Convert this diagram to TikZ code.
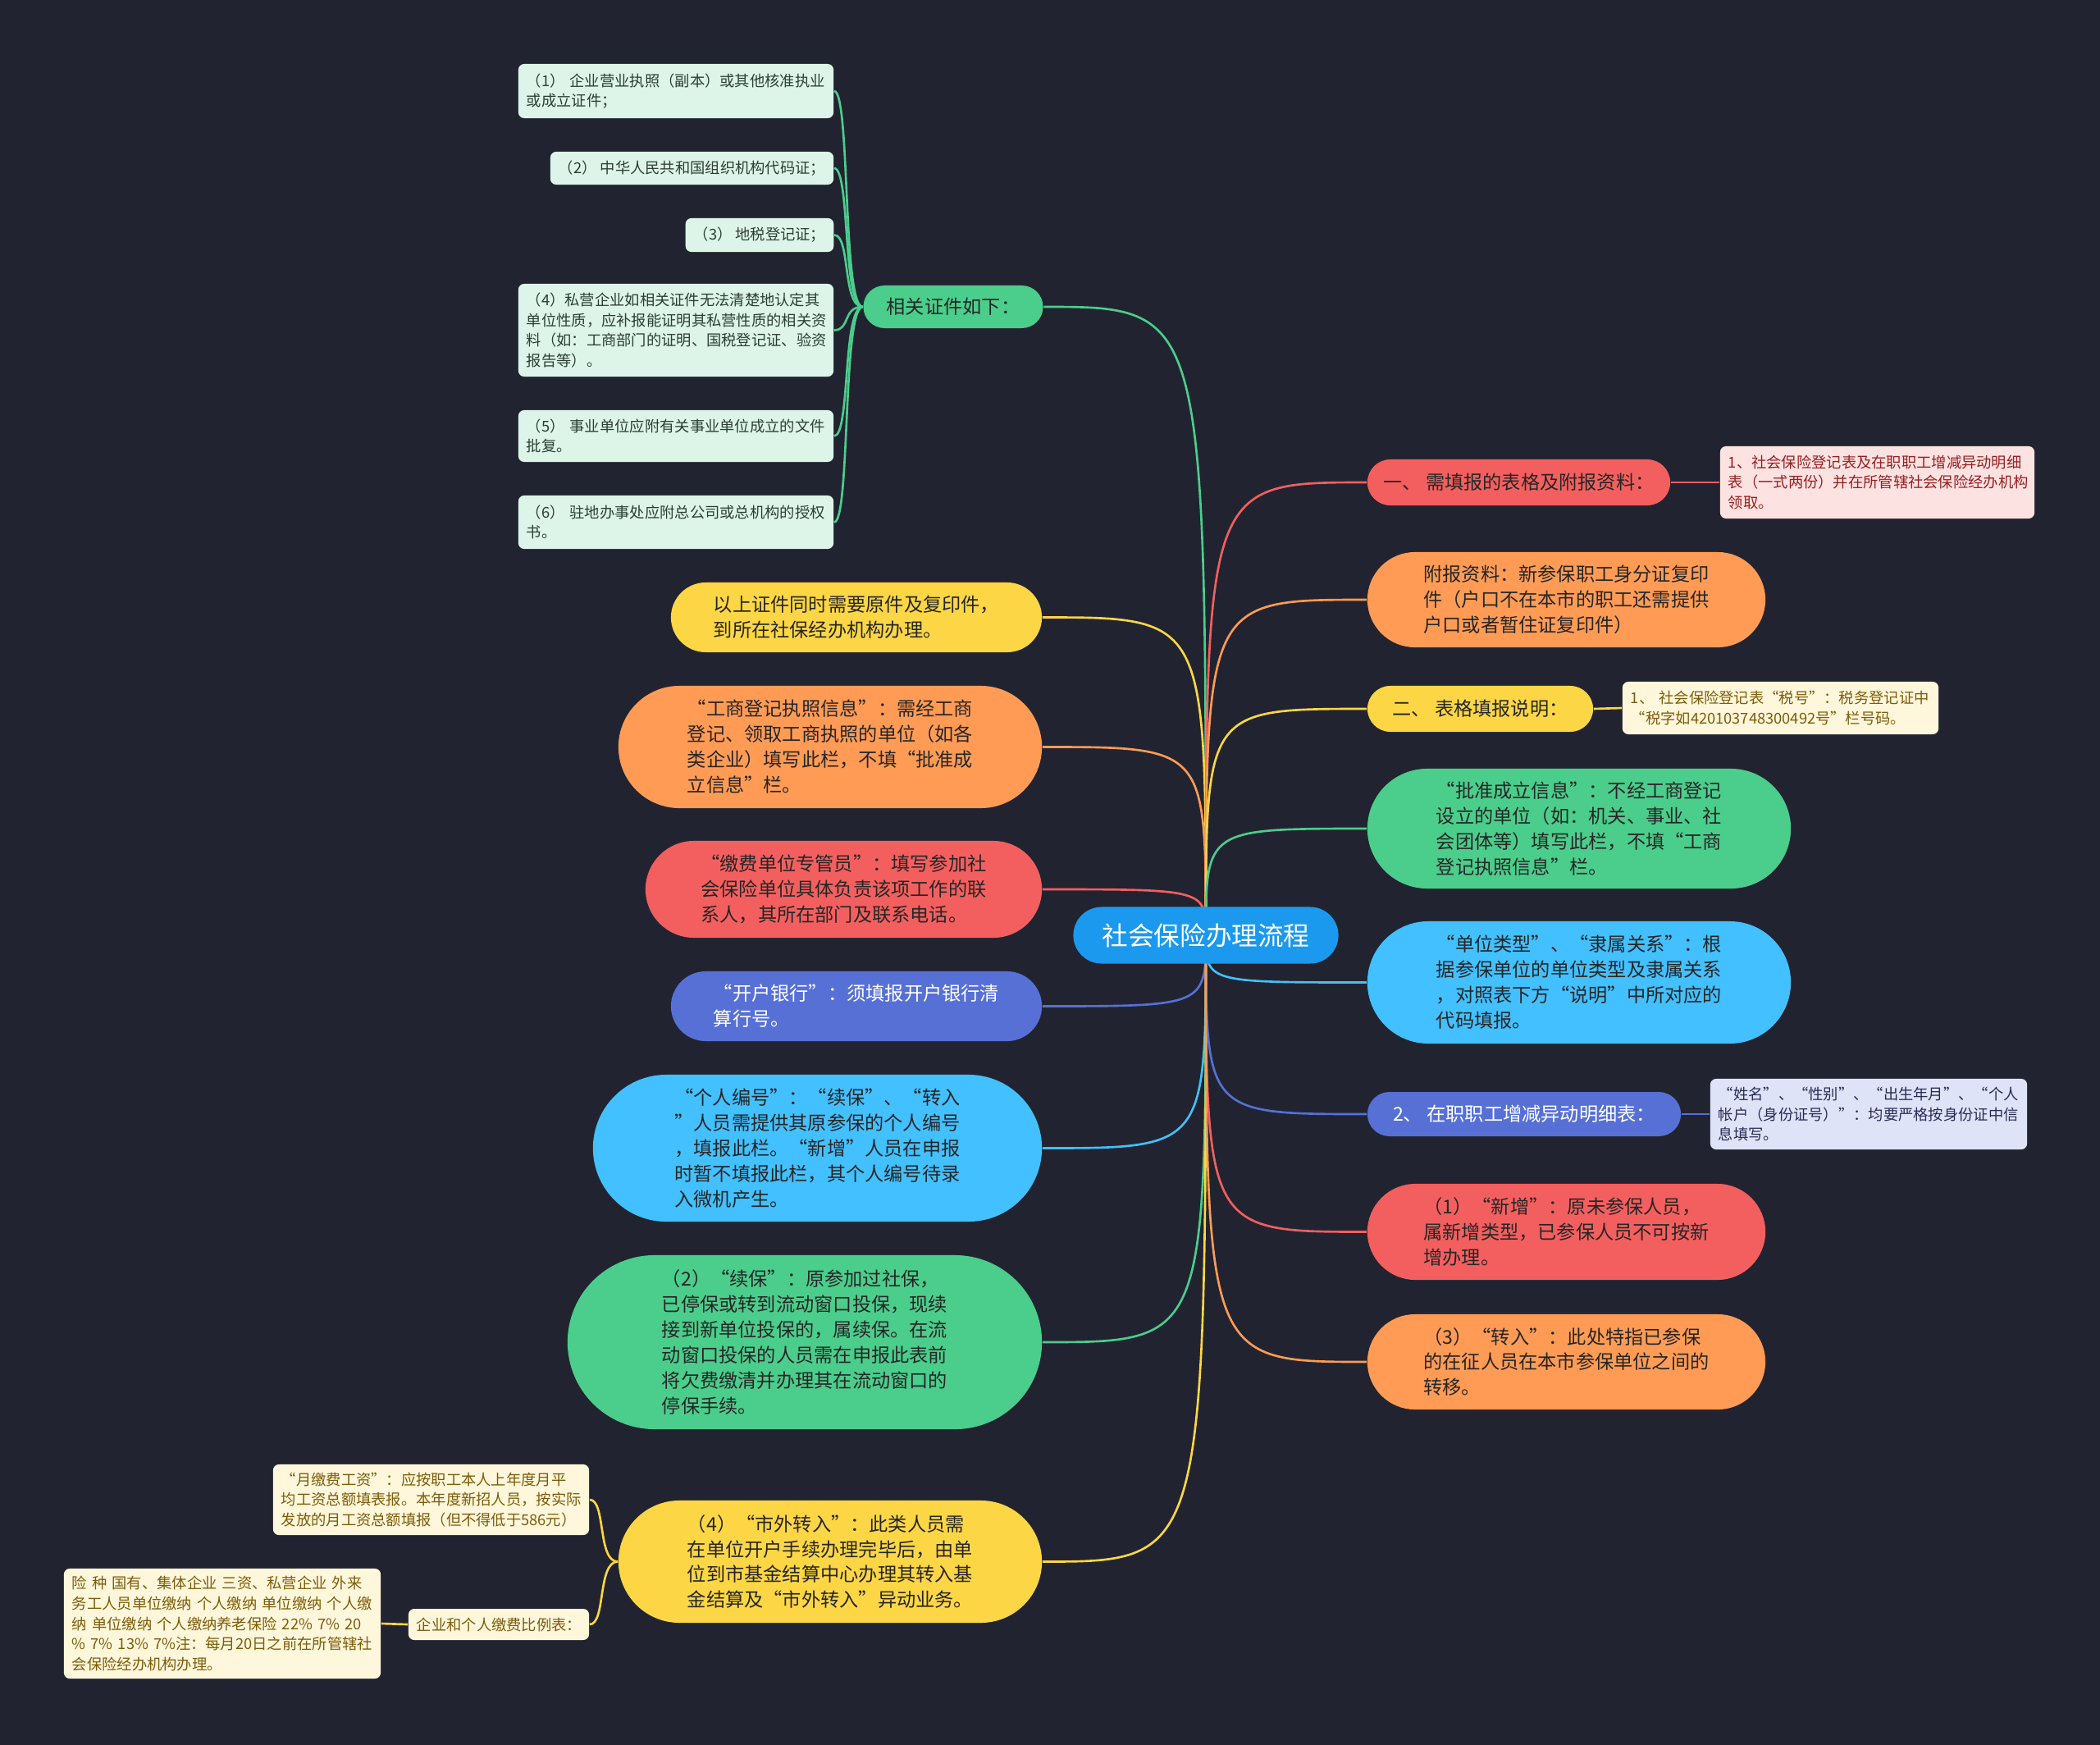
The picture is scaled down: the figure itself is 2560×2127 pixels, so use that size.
\documentclass[tikz,border=0pt]{standalone}
\usepackage{fontspec}
\setmainfont{Noto Sans CJK SC}
\usepackage{tikz}
\usetikzlibrary{shapes.misc}
\definecolor{MapBg}{RGB}{33,36,48}
\definecolor{MapRoot}{RGB}{27,153,238}
\definecolor{MapRed}{RGB}{243,95,95}
\definecolor{MapOrange}{RGB}{255,155,85}
\definecolor{MapYellow}{RGB}{253,214,69}
\definecolor{MapGreen}{RGB}{75,205,140}
\definecolor{MapSky}{RGB}{66,192,255}
\definecolor{MapIndigo}{RGB}{86,112,214}
\definecolor{MapInk}{RGB}{38,38,38}
\definecolor{SubMint}{RGB}{221,245,233}
\definecolor{SubPink}{RGB}{253,226,226}
\definecolor{SubCream}{RGB}{254,247,219}
\definecolor{SubLilac}{RGB}{223,227,248}
\definecolor{InkMint}{RGB}{45,62,52}
\definecolor{InkPink}{RGB}{150,32,32}
\definecolor{InkCream}{RGB}{125,92,10}
\definecolor{InkLilac}{RGB}{40,45,85}
\pgfdeclarelayer{bgfill}
\pgfdeclarelayer{edges}
\pgfsetlayers{bgfill,edges,main}

\begin{document}
\begin{tikzpicture}[x=0.01cm, y=-0.01cm,
    hub/.style={rounded rectangle, fill=MapRoot, text=white, inner sep=0pt, font=\fontsize{9}{11}\selectfont},
    topic/.style={rounded rectangle, inner sep=0pt, align=left, text=MapInk, font=\fontsize{6.6}{8.8}\selectfont},
    note/.style={rectangle, rounded corners=2pt, inner xsep=0.1cm, inner ysep=0pt, align=left, font=\fontsize{5.2}{7}\selectfont},
    link/.style={line width=0.75pt}
]
    \begin{pgfonlayer}{bgfill}
        \fill[MapBg] (0,0) rectangle (2560,2127);
    \end{pgfonlayer}

    \node[hub, minimum width=3.23cm, minimum height=0.69cm] (root) at (1470,1140) {社会保险办理流程};

    % left side
    \node[topic, fill=MapGreen, minimum width=2.19cm, minimum height=0.52cm] (cert) at (1162,374) {相关证件如下：};
    \node[note, fill=SubMint, text=InkMint, text width=3.64cm, minimum height=0.66cm] (c1) at (824,111) {（1） 企业营业执照（副本）或其他核准执业\\或成立证件；};
    \node[note, fill=SubMint, text=InkMint, minimum width=3.45cm, minimum height=0.40cm] (c2) at (843.5,205) {（2） 中华人民共和国组织机构代码证；};
    \node[note, fill=SubMint, text=InkMint, minimum width=1.80cm, minimum height=0.41cm] (c3) at (926,286.5) {（3） 地税登记证；};
    \node[note, fill=SubMint, text=InkMint, text width=3.64cm, minimum height=1.13cm] (c4) at (824,402.5) {（4）私营企业如相关证件无法清楚地认定其\\单位性质，应补报能证明其私营性质的相关资\\料（如：工商部门的证明、国税登记证、验资\\报告等）。};
    \node[note, fill=SubMint, text=InkMint, text width=3.64cm, minimum height=0.63cm] (c5) at (824,531.5) {（5） 事业单位应附有关事业单位成立的文件\\批复。};
    \node[note, fill=SubMint, text=InkMint, text width=3.64cm, minimum height=0.65cm] (c6) at (824,636.5) {（6） 驻地办事处应附总公司或总机构的授权\\书。};

    \node[topic, fill=MapYellow, minimum width=4.52cm, minimum height=0.85cm] (l1) at (1044,752.5) {以上证件同时需要原件及复印件，\\到所在社保经办机构办理。};
    \node[topic, fill=MapOrange, minimum width=5.16cm, minimum height=1.49cm] (l2) at (1012,910.5) {“工商登记执照信息”：需经工商\\登记、领取工商执照的单位（如各\\类企业）填写此栏，不填“批准成\\立信息”栏。};
    \node[topic, fill=MapRed, minimum width=4.83cm, minimum height=1.18cm] (l3) at (1028.5,1084) {“缴费单位专管员”：填写参加社\\会保险单位具体负责该项工作的联\\系人，其所在部门及联系电话。};
    \node[topic, fill=MapIndigo, text=white, minimum width=4.52cm, minimum height=0.85cm] (l4) at (1044,1226.5) {“开户银行”：须填报开户银行清\\算行号。};
    \node[topic, fill=MapSky, minimum width=5.47cm, minimum height=1.79cm] (l5) at (996.5,1399.5) {“个人编号”：“续保”、“转入\\”人员需提供其原参保的个人编号\\，填报此栏。“新增”人员在申报\\时暂不填报此栏，其个人编号待录\\入微机产生。};
    \node[topic, fill=MapGreen, minimum width=5.78cm, minimum height=2.12cm] (l6) at (981,1636) {（2）“续保”：原参加过社保，\\已停保或转到流动窗口投保，现续\\接到新单位投保的，属续保。在流\\动窗口投保的人员需在申报此表前\\将欠费缴清并办理其在流动窗口的\\停保手续。};
    \node[topic, fill=MapYellow, minimum width=5.16cm, minimum height=1.49cm] (l7) at (1012,1903.5) {（4）“市外转入”：此类人员需\\在单位开户手续办理完毕后，由单\\位到市基金结算中心办理其转入基\\金结算及“市外转入”异动业务。};

    \node[note, fill=SubCream, text=InkCream, text width=3.65cm, minimum height=0.86cm] (w1) at (525.5,1828) {“月缴费工资”：应按职工本人上年度月平\\均工资总额填表报。本年度新招人员，按实际\\发放的月工资总额填报（但不得低于586元）};
    \node[note, fill=SubCream, text=InkCream, text width=2.00cm, minimum height=0.38cm] (w2) at (608,1980) {企业和个人缴费比例表：};
    \node[note, fill=SubCream, text=InkCream, text width=3.66cm, minimum height=1.34cm] (w3) at (271,1979) {险 种 国有、集体企业 三资、私营企业 外来\\务工人员单位缴纳 个人缴纳 单位缴纳 个人缴\\纳 单位缴纳 个人缴纳养老保险 22\% 7\% 20\\\% 7\% 13\% 7\%注：每月20日之前在所管辖社\\会保险经办机构办理。};

    % right side
    \node[topic, fill=MapRed, minimum width=3.69cm, minimum height=0.56cm] (r1) at (1851.5,588) {一、 需填报的表格及附报资料：};
    \node[note, fill=SubPink, text=InkPink, text width=3.63cm, minimum height=0.88cm] (r1a) at (2288.5,588) {1、社会保险登记表及在职职工增减异动明细\\表（一式两份）并在所管辖社会保险经办机构\\领取。};
    \node[topic, fill=MapOrange, minimum width=4.85cm, minimum height=1.16cm] (r2) at (1909.5,731) {附报资料：新参保职工身分证复印\\件（户口不在本市的职工还需提供\\户口或者暂住证复印件）};
    \node[topic, fill=MapYellow, minimum width=2.75cm, minimum height=0.56cm] (r3) at (1804.5,864) {二、 表格填报说明：};
    \node[note, fill=SubCream, text=InkCream, text width=3.65cm, minimum height=0.64cm] (r3a) at (2170.5,863) {1、 社会保险登记表“税号”：税务登记证中\\“税字如420103748300492号”栏号码。};
    \node[topic, fill=MapGreen, minimum width=5.16cm, minimum height=1.46cm] (r4) at (1925,1010) {“批准成立信息”：不经工商登记\\设立的单位（如：机关、事业、社\\会团体等）填写此栏，不填“工商\\登记执照信息”栏。};
    \node[topic, fill=MapSky, minimum width=5.16cm, minimum height=1.49cm] (r5) at (1925,1197.5) {“单位类型”、“隶属关系”：根\\据参保单位的单位类型及隶属关系\\，对照表下方“说明”中所对应的\\代码填报。};
    \node[topic, fill=MapIndigo, text=white, minimum width=3.82cm, minimum height=0.54cm] (r6) at (1858,1358) {2、 在职职工增减异动明细表：};
    \node[note, fill=SubLilac, text=InkLilac, text width=3.66cm, minimum height=0.86cm] (r6a) at (2278,1358) {“姓名”、“性别”、“出生年月”、“个人\\帐户（身份证号）”：均要严格按身份证中信\\息填写。};
    \node[topic, fill=MapRed, minimum width=4.85cm, minimum height=1.17cm] (r7) at (1909.5,1501.5) {（1）“新增”：原未参保人员，\\属新增类型，已参保人员不可按新\\增办理。};
    \node[topic, fill=MapOrange, minimum width=4.85cm, minimum height=1.16cm] (r8) at (1909.5,1660) {（3）“转入”：此处特指已参保\\的在征人员在本市参保单位之间的\\转移。};

    \begin{pgfonlayer}{edges}
        \draw[link, MapGreen] (root.center) .. controls (root.center |- cert.east) .. (cert.east);
        \draw[link, MapYellow] (root.center) .. controls (root.center |- l1.east) .. (l1.east);
        \draw[link, MapOrange] (root.center) .. controls (root.center |- l2.east) .. (l2.east);
        \draw[link, MapRed] (root.center) .. controls (root.center |- l3.east) .. (l3.east);
        \draw[link, MapIndigo] (root.center) .. controls (root.center |- l4.east) .. (l4.east);
        \draw[link, MapSky] (root.center) .. controls (root.center |- l5.east) .. (l5.east);
        \draw[link, MapGreen] (root.center) .. controls (root.center |- l6.east) .. (l6.east);
        \draw[link, MapYellow] (root.center) .. controls (root.center |- l7.east) .. (l7.east);
        \draw[link, MapRed] (root.center) .. controls (root.center |- r1.west) .. (r1.west);
        \draw[link, MapOrange] (root.center) .. controls (root.center |- r2.west) .. (r2.west);
        \draw[link, MapYellow] (root.center) .. controls (root.center |- r3.west) .. (r3.west);
        \draw[link, MapGreen] (root.center) .. controls (root.center |- r4.west) .. (r4.west);
        \draw[link, MapSky] (root.center) .. controls (root.center |- r5.west) .. (r5.west);
        \draw[link, MapIndigo] (root.center) .. controls (root.center |- r6.west) .. (r6.west);
        \draw[link, MapRed] (root.center) .. controls (root.center |- r7.west) .. (r7.west);
        \draw[link, MapOrange] (root.center) .. controls (root.center |- r8.west) .. (r8.west);
        \foreach \c in {c1,c2,c3,c4,c5,c6}
            \draw[link, MapGreen] (cert.west) .. controls +(-25,0) and +(20,0) .. (\c.east);
        \draw[link, MapYellow] (l7.west) .. controls +(-25,0) and +(20,0) .. (w1.east);
        \draw[link, MapYellow] (l7.west) .. controls +(-25,0) and +(20,0) .. (w2.east);
        \draw[link, MapYellow] (w2.west) -- (w3.east);
        \draw[link, MapRed] (r1.east) -- (r1a.west);
        \draw[link, MapYellow] (r3.east) -- (r3a.west);
        \draw[link, MapIndigo] (r6.east) -- (r6a.west);
    \end{pgfonlayer}
\end{tikzpicture}
\end{document}
